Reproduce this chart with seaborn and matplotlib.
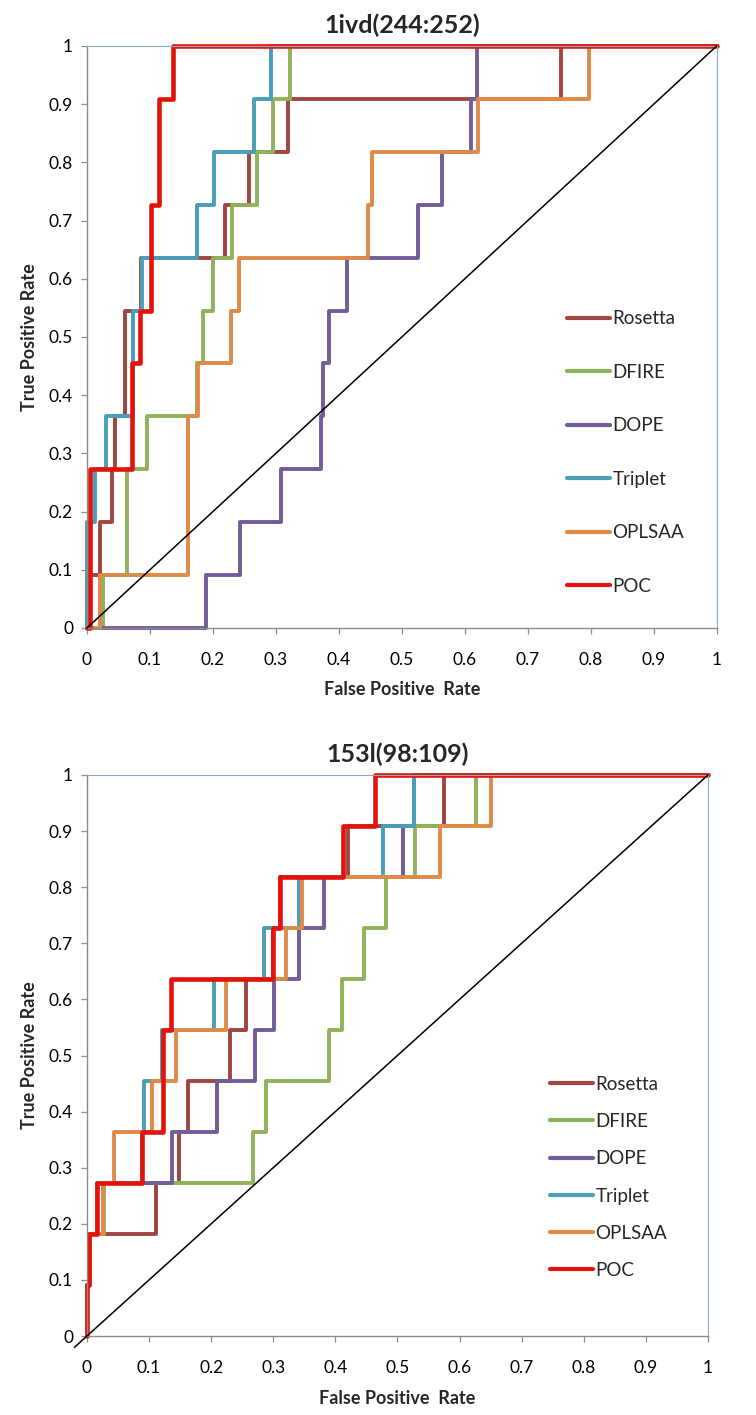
"""
ROC curves for two loop targets, six scoring functions each.
Step curves are stored as the FPR at which each TPR level is reached.
"""

import numpy as np
import pandas as pd
import matplotlib
matplotlib.use("Agg")
import matplotlib.pyplot as plt
from matplotlib.ticker import FuncFormatter
import seaborn as sns

METHODS = ["Rosetta", "DFIRE", "DOPE", "Triplet", "OPLSAA", "POC"]
TITLES = ["1ivd(244:252)", "153l(98:109)"]

# TPR after each step (11 positives); last entry closes the curve at FPR = 1
TPR_LEVELS = [0, 0.091, 0.182, 0.273, 0.364, 0.455, 0.545, 0.636, 0.727, 0.818, 0.909, 1.0, 1.0]

# 1ivd(244:252) – FPR where each TPR level is reached
IVD_ROSETTA = [0, 0, 0.021, 0.039, 0.044, 0.060, 0.060, 0.086, 0.220, 0.257, 0.320, 0.753, 1]
IVD_DFIRE   = [0, 0.026, 0.063, 0.063, 0.095, 0.175, 0.185, 0.200, 0.230, 0.270, 0.295, 0.322, 1]
IVD_DOPE    = [0, 0.189, 0.243, 0.308, 0.371, 0.375, 0.384, 0.413, 0.525, 0.564, 0.610, 0.620, 1]
IVD_TRIPLET = [0, 0, 0, 0.013, 0.031, 0.073, 0.073, 0.088, 0.174, 0.202, 0.266, 0.292, 1]
IVD_OPLSAA  = [0, 0.021, 0.161, 0.161, 0.161, 0.177, 0.228, 0.242, 0.446, 0.452, 0.621, 0.798, 1]
IVD_POC     = [0, 0.005, 0.005, 0.005, 0.071, 0.071, 0.084, 0.102, 0.102, 0.115, 0.115, 0.137, 1]

# 153l(98:109)
L153_ROSETTA = [0, 0, 0.005, 0.111, 0.148, 0.163, 0.231, 0.256, 0.300, 0.311, 0.420, 0.575, 1]
L153_DFIRE   = [0, 0, 0.005, 0.028, 0.268, 0.288, 0.389, 0.411, 0.446, 0.481, 0.529, 0.627, 1]
L153_DOPE    = [0, 0, 0.003, 0.016, 0.1375, 0.209, 0.270, 0.3005, 0.342, 0.381, 0.509, 0.527, 1]
L153_TRIPLET = [0, 0, 0.003, 0.016, 0.088, 0.092, 0.121, 0.204, 0.285, 0.342, 0.476, 0.527, 1]
L153_OPLSAA  = [0, 0, 0.005, 0.026, 0.043, 0.104, 0.143, 0.224, 0.321, 0.346, 0.569, 0.650, 1]
L153_POC     = [0, 0, 0.003, 0.016, 0.089, 0.123, 0.123, 0.135, 0.2995, 0.311, 0.413, 0.4645, 1]

CHANCE = [0, 1]
TICKS = [0, 0.1, 0.2, 0.3, 0.4, 0.5, 0.6, 0.7, 0.8, 0.9, 1.0]

COLORS = {
    "Rosetta": "#A04540",
    "DFIRE":   "#8FB35A",
    "DOPE":    "#725C99",
    "Triplet": "#4A9EB8",
    "OPLSAA":  "#E08A48",
    "POC":     "#E3120B",
}

panels = {
    TITLES[0]: [IVD_ROSETTA, IVD_DFIRE, IVD_DOPE, IVD_TRIPLET, IVD_OPLSAA, IVD_POC],
    TITLES[1]: [L153_ROSETTA, L153_DFIRE, L153_DOPE, L153_TRIPLET, L153_OPLSAA, L153_POC],
}

rows = []
for title, curves in panels.items():
    for method, fpr in zip(METHODS, curves):
        for x, y in zip(fpr, TPR_LEVELS):
            rows.append({"panel": title, "method": method, "fpr": x, "tpr": y})
df = pd.DataFrame(rows)

sns.set_theme(style="white")
plt.rcParams["font.family"] = ["Lato", "DejaVu Sans"]

fig = plt.figure(figsize=(7.56, 14.15), dpi=100)
# axes boxes in figure fractions (left, bottom, width, height)
boxes = [(0.115, 0.5562, 0.833, 0.4113), (0.115, 0.0558, 0.8214, 0.3965)]
legend_anchor = [(0.735, 0.575), (0.718, 0.494)]
legend_spacing = [1.95, 1.08]

for i, title in enumerate(TITLES):
    ax = fig.add_axes(boxes[i])
    sub = df[df["panel"] == title]
    for method in METHODS:
        d = sub[sub["method"] == method]
        sns.lineplot(
            data=d, x="fpr", y="tpr", ax=ax,
            estimator=None, sort=False, drawstyle="steps-post",
            color=COLORS[method], label=method,
            linewidth=3.3 if method == "POC" else 2.8,
            clip_on=False,
        )
    diag_lo = CHANCE[0] - (0.02 if i == 1 else 0)
    ax.plot([diag_lo, CHANCE[1]], [diag_lo, CHANCE[1]], color="black",
            linewidth=1.1, zorder=5, clip_on=False)

    ax.set_xlim(0, 1)
    ax.set_ylim(0, 1)
    ax.set_xticks(TICKS)
    ax.set_yticks(TICKS)
    fmt = FuncFormatter(lambda v, _: f"{round(v, 1):g}")
    ax.xaxis.set_major_formatter(fmt)
    ax.yaxis.set_major_formatter(fmt)
    ax.tick_params(axis="both", which="major", direction="out", length=4,
                   width=0.9, color="#8C8C8C", labelsize=12.5, labelcolor="black",
                   bottom=True, left=True)
    ax.tick_params(axis="x", pad=13)
    ax.tick_params(axis="y", pad=6)

    for side in ["left", "bottom"]:
        ax.spines[side].set_color("#8C8C8C")
        ax.spines[side].set_linewidth(1.0)
    for side in ["top", "right"]:
        ax.spines[side].set_color("#8EA9C8")
        ax.spines[side].set_linewidth(0.8)

    ax.set_title(title, fontsize=18, fontweight="bold", pad=9)
    ax.set_xlabel("False Positive  Rate", fontsize=13, fontweight="bold", labelpad=10)
    ax.set_ylabel("True Positive Rate", fontsize=13, fontweight="bold", labelpad=8)

    leg = ax.legend(loc="upper left", bbox_to_anchor=legend_anchor[i],
                    frameon=False, fontsize=13.5, labelspacing=legend_spacing[i],
                    handlelength=2.3, handletextpad=0.15)
    for h in leg.get_lines():
        h.set_linewidth(3.0)

fig.savefig("out.png", dpi=100)
plt.close(fig)
